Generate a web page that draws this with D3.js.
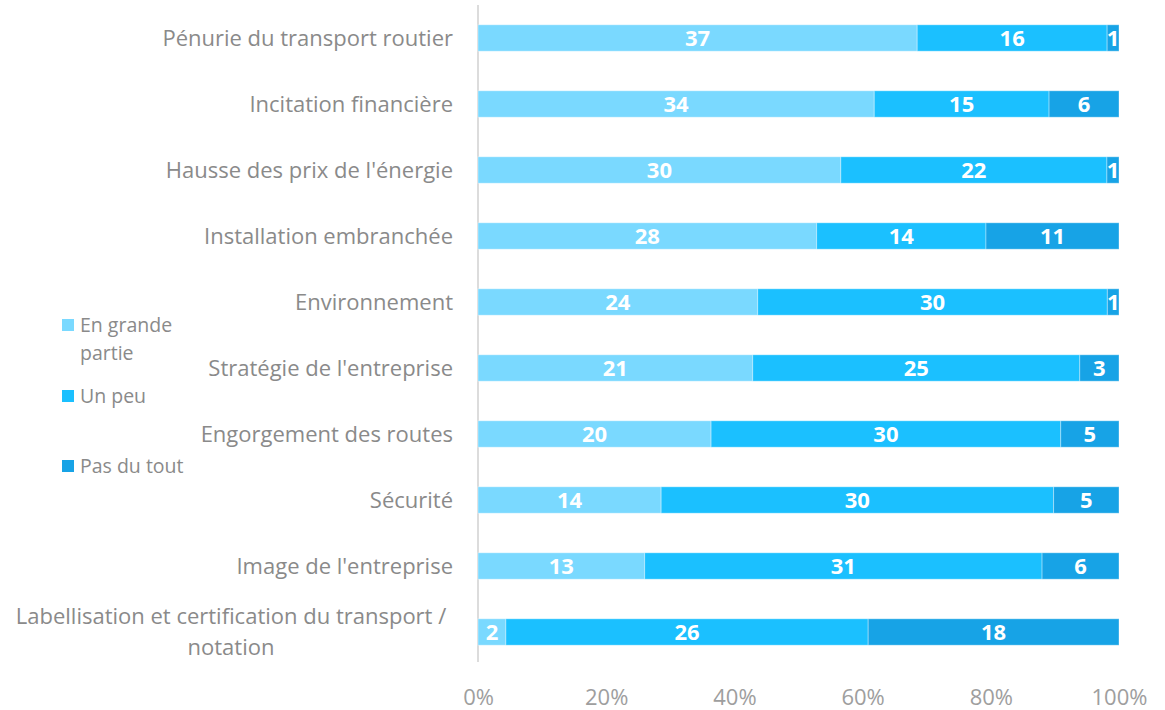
<!DOCTYPE html>
<html>
<head>
<meta charset="utf-8">
<script src="https://cdn.jsdelivr.net/npm/d3@7"></script>
<style>
  body { margin: 0; background: #fff; }
  text { font-family: "Open Sans", "Noto Sans", sans-serif; }
</style>
</head>
<body>
<svg id="chart" width="1165" height="710"></svg>
<script>
// categories, top to bottom
let categories = ['Pénurie du transport routier', 'Incitation financière', "Hausse des prix de l'énergie",
  'Installation embranchée', 'Environnement', "Stratégie de l'entreprise", 'Engorgement des routes',
  'Sécurité', "Image de l'entreprise", 'Labellisation et certification du transport / notation'];
let seriesNames = ['En grande partie', 'Un peu', 'Pas du tout'];
let enGrandePartie = [37, 34, 30, 28, 24, 21, 20, 14, 13, 2];
let unPeu = [16, 15, 22, 14, 30, 25, 30, 30, 31, 26];
let pasDuTout = [1, 6, 1, 11, 1, 3, 5, 5, 6, 18];
let tickValues = [0, 0.2, 0.4, 0.6, 0.8, 1];
let colors = ['#7ad9ff', '#1bc0ff', '#17a3e6'];

let svg = d3.select('#chart');

let rows = categories.map((c, i) => ({cat: c, v: [enGrandePartie[i], unPeu[i], pasDuTout[i]]}));

let x = d3.scaleLinear().domain([0, 1]).range([478, 1119]);
let y = d3.scaleBand().domain(categories).range([5, 665]).paddingInner(0.6).paddingOuter(0.3);

//vertical baseline
svg.append('line').attr('x1', 478).attr('x2', 478).attr('y1', 5).attr('y2', 662)
  .attr('stroke', '#dcdcdc').attr('stroke-width', 2);

//build the stacked segments
let segs = [];
rows.forEach(r => {
  let total = d3.sum(r.v);
  let acc = 0;
  r.v.forEach((v, k) => {
    segs.push({cat: r.cat, k: k, v: v, x0: acc / total, x1: (acc + v) / total});
    acc += v;
  });
});

svg.append('g').selectAll('rect').data(segs).join('rect')
  .attr('x', d => x(d.x0))
  .attr('y', d => y(d.cat))
  .attr('width', d => x(d.x1) - x(d.x0))
  .attr('height', y.bandwidth())
  .attr('fill', d => colors[d.k])
  .attr('stroke', 'rgba(255,255,255,0.35)')
  .attr('stroke-width', 1);

svg.append('g').selectAll('text').data(segs).join('text')
  .attr('x', d => (x(d.x0) + x(d.x1)) / 2)
  .attr('y', d => y(d.cat) + y.bandwidth() / 2)
  .attr('dy', '0.36em')
  .attr('text-anchor', 'middle')
  .attr('fill', '#fff')
  .style('font-size', '22px')
  .style('font-weight', 'bold')
  .text(d => d.v);

//category labels, wrapped labels are centered
let labels = svg.append('g').selectAll('text').data(categories).join('text')
  .attr('x', 453)
  .attr('y', d => y(d) + y.bandwidth() / 2)
  .attr('dy', '0.36em')
  .attr('text-anchor', 'end')
  .attr('fill', '#8a8a8a')
  .style('font-size', '22px')
  .text(d => d);

labels.each(function (d) {
  let t = d3.select(this);
  if (this.getComputedTextLength() <= 445) return;
  let words = d.split(/\s+/);
  let lines = [], line = [];
  t.text(null);
  let probe = t.append('tspan');
  words.forEach(w => {
    line.push(w);
    probe.text(line.join(' '));
    if (probe.node().getComputedTextLength() > 445 && line.length > 1) {
      line.pop();
      lines.push(line.join(' '));
      line = [w];
    }
  });
  lines.push(line.join(' '));
  probe.remove();
  let cy = y(d) + y.bandwidth() / 2;
  t.attr('text-anchor', 'middle').attr('dy', null);
  lines.forEach((l, i) => {
    t.append('tspan').attr('x', 231)
      .attr('y', cy + (i - (lines.length - 1) / 2) * 31)
      .attr('dy', '0.36em')
      .text(l);
  });
});

//x axis labels
let xAxis = d3.axisBottom(x).tickValues(tickValues).tickFormat(d3.format('.0%')).tickSize(0).tickPadding(0);
let gx = svg.append('g').attr('transform', 'translate(0,689)').call(xAxis);
gx.select('.domain').remove();
gx.selectAll('text').attr('fill', '#9e9e9e').style('font-size', '22px')
  .style('font-family', '"Open Sans", "Noto Sans", sans-serif');

//legend
let legendY = [325, 396, 466];
let legend = svg.append('g').selectAll('g').data(seriesNames).join('g')
  .attr('transform', (d, i) => 'translate(62,' + legendY[i] + ')');
legend.append('rect').attr('x', 0).attr('y', -6).attr('width', 12).attr('height', 12)
  .attr('fill', (d, i) => colors[i]);
legend.append('text').attr('x', 18).attr('dy', '0.36em')
  .attr('fill', '#8a8a8a').style('font-size', '19.5px')
  .each(function (d) {
    let t = d3.select(this);
    if (d === 'En grande partie') {
      t.append('tspan').attr('x', 18).text('En grande');
      t.append('tspan').attr('x', 18).attr('dy', '1.45em').text('partie');
    } else {
      t.text(d);
    }
  });
</script>
</body>
</html>
